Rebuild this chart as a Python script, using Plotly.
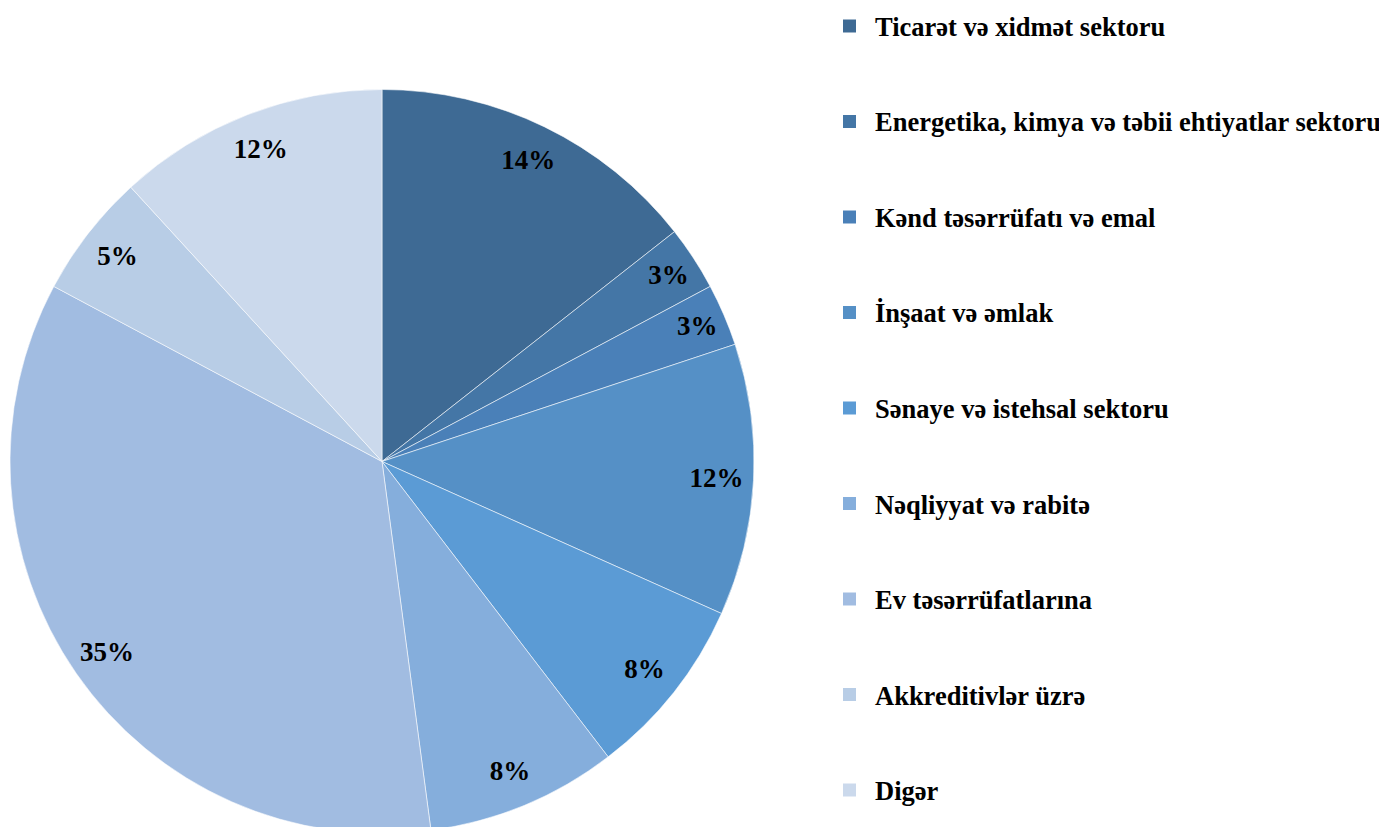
import plotly.graph_objects as go

categories = [
    "Ticarət və xidmət sektoru",
    "Energetika, kimya və təbii ehtiyatlar sektoru",
    "Kənd təsərrüfatı və emal",
    "İnşaat və əmlak",
    "Sənaye və istehsal sektoru",
    "Nəqliyyat və rabitə",
    "Ev təsərrüfatlarına",
    "Akkreditivlər üzrə",
    "Digər",
]
values = [14.4, 2.8, 2.7, 11.8, 7.9, 8.3, 34.9, 5.4, 11.8]
colors = ["#3E6A94", "#4476A6", "#4A80B8", "#5590C6", "#5B9BD5",
          "#85AEDC", "#A1BCE1", "#B8CDE6", "#CBD9EC"]

FONT = "Liberation Serif"
W, H = 1387, 827
OFF = 8  # page body margin offset
pie_domain = dict(x=[(10 - OFF) / W, (754 - OFF) / W], y=[0, (H - 88 + OFF) / H])

fig = go.Figure()
# main pie (no text)
fig.add_trace(go.Pie(
    labels=categories, values=values, sort=False, direction="clockwise",
    rotation=0, domain=pie_domain,
    marker=dict(colors=colors, line=dict(color="rgba(255,255,255,0.7)", width=0.8)),
    textinfo="none", showlegend=False, hoverinfo="label+percent",
))
# transparent ring carrying the percentage labels near the rim
fig.add_trace(go.Pie(
    labels=categories, values=values, sort=False, direction="clockwise",
    rotation=0, domain=pie_domain, hole=0.8,
    marker=dict(colors=["rgba(0,0,0,0)"] * len(values), line=dict(width=0)),
    texttemplate="%{percent:.0%}",
    textposition="inside", insidetextorientation="horizontal",
    textfont=dict(family=FONT, size=27, color="black", weight="bold"),
    showlegend=False, hoverinfo="skip",
))

# legend drawn as squares + text, one row per category
legend_top, legend_step = 27 - OFF, 95.5
for i, (cat, col) in enumerate(zip(categories, colors)):
    yc = legend_top + i * legend_step
    fig.add_shape(type="rect", xref="paper", yref="paper",
                  x0=(843 - OFF) / W, x1=(856 - OFF) / W,
                  y0=1 - (yc + 5.5) / H, y1=1 - (yc - 7.5) / H,
                  fillcolor=col, line=dict(width=0))
    fig.add_annotation(text=cat, xref="paper", yref="paper",
                       x=(873 - OFF) / W, y=1 - yc / H, xanchor="left", yanchor="middle",
                       showarrow=False,
                       font=dict(family=FONT, size=26.5, color="black", weight="bold"))

fig.update_layout(
    width=W, height=H,
    margin=dict(l=0, r=0, t=0, b=0),
    paper_bgcolor="white", plot_bgcolor="white",
    showlegend=False,
    font=dict(family=FONT),
)

fig.write_html("out.html")
